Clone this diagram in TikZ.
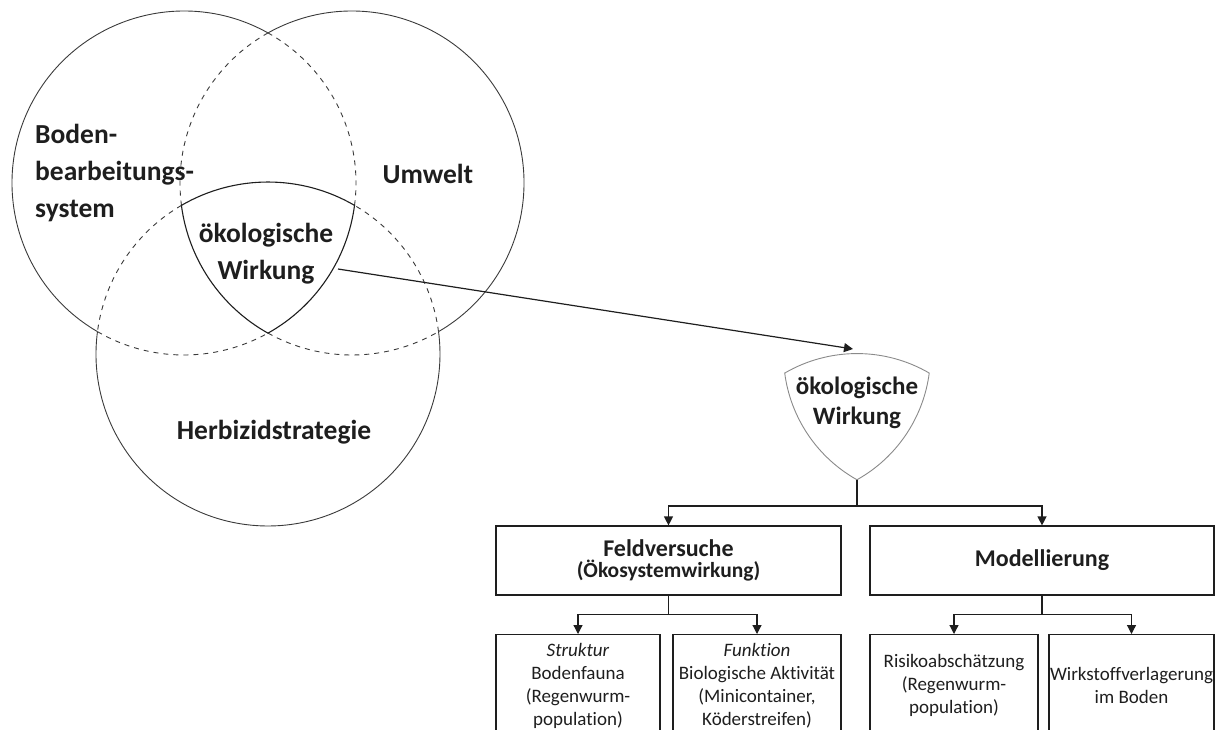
\documentclass[tikz,border=0pt]{standalone}
\usepackage{fontspec}
\setmainfont{Carlito}[Ligatures={NoCommon}]
\usetikzlibrary{arrows.meta}
\definecolor{ink}{HTML}{1E1E1E}
\definecolor{circ}{HTML}{3A3A3A}
\definecolor{lightout}{HTML}{8A8A8A}
\begin{document}
\begin{tikzpicture}[x=1pt,y=1pt,
  circline/.style={draw=circ,line width=0.9pt},
  dsh/.style={draw=circ,line width=0.9pt,dash pattern=on 5pt off 5pt},
  reu/.style={draw=ink,line width=1.1pt},
  big/.style={font=\bfseries\fontsize{27.5}{37}\selectfont,text=ink,inner sep=0pt},
  mid/.style={font=\bfseries\fontsize{25}{30}\selectfont,text=ink,inner sep=0pt,align=center},
  box/.style={draw=ink,line width=1.2pt,inner sep=0pt,align=center,text=ink},
  sub/.style={box,font=\fontsize{19}{23}\selectfont,minimum height=102pt,anchor=north},
  arr/.style={draw=ink,line width=1.2pt,-{Triangle[length=9pt,width=9pt]}},
  ln/.style={draw=ink,line width=1.2pt}]
\useasboundingbox (0,0) rectangle (1215,-729);
\clip (0,0) rectangle (1215,-729);

% Venn: left circle
\draw[circline] (184,-183) ++(60.77:172) arc[start angle=60.77,end angle=239.8,radius=172];
\draw[dsh] (184,-183) ++(-7.45:172) arc[start angle=-7.45,end angle=60.77,radius=172];
\draw[dsh] (184,-183) ++(-120.2:172) arc[start angle=-120.2,end angle=-60.77,radius=172];
% right circle
\draw[circline] (352,-183) ++(-59.8:172) arc[start angle=-59.8,end angle=119.23,radius=172];
\draw[dsh] (352,-183) ++(119.23:172) arc[start angle=119.23,end angle=187.45,radius=172];
\draw[dsh] (352,-183) ++(240.77:172) arc[start angle=240.77,end angle=300.2,radius=172];
% bottom circle
\draw[circline] (268,-354) ++(172.55:172) arc[start angle=172.55,end angle=367.45,radius=172];
\draw[dsh] (268,-354) ++(7.45:172) arc[start angle=7.45,end angle=59.8,radius=172];
\draw[dsh] (268,-354) ++(120.2:172) arc[start angle=120.2,end angle=172.55,radius=172];
% central region
\draw[reu] (268,-354) ++(120.2:172) arc[start angle=120.2,end angle=59.8,radius=172]
  arc[start angle=-7.45,end angle=-60.77,radius=172]
  arc[start angle=240.77,end angle=187.45,radius=172] -- cycle;

\node[big,align=left,anchor=west] (boden) at (35,-173.5) {Boden-\\bearbeitungs-\\system};
\node[big] (umwelt) at (428,-174) {Umwelt};
\node[big] (herb) at (274,-432) {Herbizidstrategie};
\node[big,align=center] (oekoV) at (266,-253.5) {ökologische\\Wirkung};
\coordinate (vennout) at (338,-269);

% right copy of the central region
\begin{scope}[shift={(857,-373)},scale=0.835]
\draw[draw=lightout,line width=0.9pt] (0,-148.7) ++(120.2:172) arc[start angle=120.2,end angle=59.8,radius=172]
  arc[start angle=-7.45,end angle=-60.77,radius=172]
  arc[start angle=240.77,end angle=187.45,radius=172] -- cycle;
\coordinate (reuB) at (0,-127.8);
\end{scope}
\node[mid] (oekoR) at (857,-403) {ökologische\\Wirkung};
\coordinate (reuT) at (853,-349);
\draw[arr] (vennout) -- (reuT);

% boxes
\node[box,minimum width=345pt,minimum height=69pt] (feld) at (668.5,-560.5)
  {{\bfseries\fontsize{24}{27}\selectfont Feldversuche}\\[2pt]{\bfseries\fontsize{21.5}{24}\selectfont (Ökosystemwirkung)}};
\node[box,minimum width=344pt,minimum height=69pt,font=\bfseries\fontsize{24}{27}\selectfont] (mod) at (1042,-560.5) {Modellierung};

\node[sub,minimum width=164pt] (strukt) at (578,-634) {\textit{Struktur}\\Bodenfauna\\(Regenwurm-\\population)};
\node[sub,minimum width=168pt] (funk) at (757,-634) {\textit{Funktion}\\Biologische Aktivität\\(Minicontainer,\\Köderstreifen)};
\node[sub,minimum width=168pt] (risk) at (954,-634) {Risikoabschätzung\\(Regenwurm-\\population)};
\node[sub,minimum width=165pt] (wirk) at (1131.5,-634) {Wirkstoffverlagerung\\im Boden};

% connectors
\coordinate (split) at (857,-506);
\draw[ln] (reuB) -- (split);
\draw[arr] (split) -| (feld.north);
\draw[arr] (split) -| (mod.north);
\draw[ln] (feld.south) -- ++(0,-19) coordinate (splitF);
\draw[arr] (splitF) -| (strukt.north);
\draw[arr] (splitF) -| (funk.north);
\draw[ln] (mod.south) -- ++(0,-19) coordinate (splitM);
\draw[arr] (splitM) -| (risk.north);
\draw[arr] (splitM) -| (wirk.north);
\end{tikzpicture}
\end{document}
